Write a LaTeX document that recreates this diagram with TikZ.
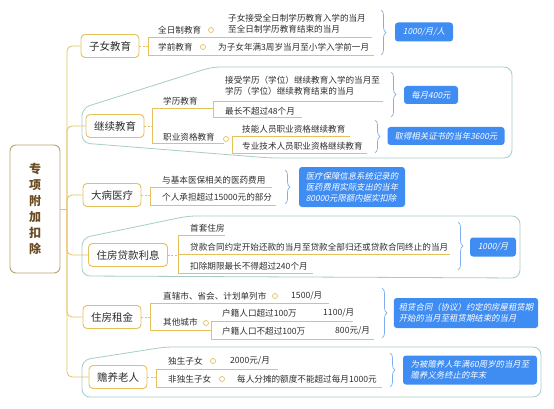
\documentclass[tikz,border=0pt]{standalone}
\usepackage{fontspec}
\setmainfont{Noto Sans CJK SC}
\newfontfamily\slantcjk[FakeSlant=0.2]{Noto Sans CJK SC}
\usetikzlibrary{decorations.pathreplacing}
\definecolor{gold}{HTML}{E6C05A}
\definecolor{rootline}{HTML}{B7A26E}
\definecolor{rootink}{HTML}{6A4A20}
\definecolor{ink}{HTML}{2E2E2E}
\definecolor{sky}{HTML}{3F8CF3}
\definecolor{bracec}{HTML}{7DAEF0}
\definecolor{frameline}{HTML}{A6CDC5}

\begin{document}
\begin{tikzpicture}[x=1pt,y=-1pt,
  root/.style={draw=rootline, line width=0.9pt, rounded corners=6pt, fill=white,
    minimum width=50pt, minimum height=128pt, text=rootink, align=center,
    font=\fontsize{12}{16}\selectfont\bfseries},
  topic/.style={draw=gold, line width=0.9pt, rounded corners=4pt, fill=white,
    minimum height=23pt, inner xsep=8pt, text=ink, font=\fontsize{10.5}{12}\selectfont},
  leaf/.style={anchor=west, inner sep=0pt, text=ink, align=left,
    font=\fontsize{8.6}{11}\selectfont},
  sum/.style={fill=sky, rounded corners=3pt, text=white, inner xsep=5pt, inner ysep=3pt,
    align=left, font=\slantcjk\fontsize{8.4}{10.8}\selectfont},
  brc/.style={draw=bracec, line width=0.7pt, decorate, decoration={brace, amplitude=5pt}},
  knob/.style={circle, draw=gold, fill=white, line width=0.7pt, minimum size=5pt, inner sep=0pt},
  ln/.style={draw=gold, line width=0.8pt},
  dl/.style={draw=gold, line width=0.8pt, dash pattern=on 2pt off 1.5pt},
  frm/.style={draw=frameline, line width=0.8pt, rounded corners=8pt}]
\useasboundingbox (0,0) rectangle (554,409);

% summary frames
\draw[frm] (82,143) -- (82,108) -- (212,67) -- (512,67) -- (512,158) -- (270,158) -- cycle;
\draw[frm] (82,276) -- (82,238) -- (188,216) -- (520,216) -- (520,278) -- cycle;
\draw[frm] (82,397) -- (82,360) -- (165,347) -- (541,347) -- (541,397) -- cycle;

% root and main topics
\node[root] (root) at (35,209) {专\\项\\附\\加\\扣\\除};
\node[topic] (t1) at (110,46)  {子女教育};
\node[topic] (t2) at (115,126) {继续教育};
\node[topic] (t3) at (112,195) {大病医疗};
\node[topic] (t4) at (128,255) {住房贷款利息};
\node[topic] (t5) at (112,317) {住房租金};
\node[topic] (t6) at (118,377) {赡养老人};

\coordinate (hub) at (67,209);
\draw[ln] (root) -- (hub);
\foreach \t in {t1,t2,t3,t4,t5,t6}
  \draw[ln, rounded corners=5pt] (hub) |- (\t.west);

% 子女教育
\coordinate (a0) at (148,46);
\coordinate (a1) at (148,37); \coordinate (a1e) at (372,37);
\coordinate (a2) at (148,55); \coordinate (a2e) at (374,55);
\draw[dl] (t1) -- (a0);
\draw[ln] (a1) -- (a2) (a1) -- (a1e) (a2) -- (a2e);
\node[leaf] (a1l) at (158,30) {全日制教育};
\node[knob] (a1k) at (211,30) {};
\node[leaf] (a1d) at (228,24) {子女接受全日制学历教育入学的当月\\至全日制学历教育结束的当月};
\node[leaf] (a2l) at (158,47) {学前教育};
\node[knob] (a2k) at (203,47) {};
\node[leaf] (a2d) at (218,47) {为子女年满3周岁当月至小学入学前一月};

% 继续教育
\coordinate (c0) at (152,126);
\coordinate (c1) at (152,108); \coordinate (c1e) at (213,108);
\coordinate (c2) at (152,143); \coordinate (c2e) at (224,143);
\coordinate (c3) at (213,101); \coordinate (c3e) at (383,101);
\coordinate (c4) at (213,117); \coordinate (c4e) at (302,117);
\coordinate (c5) at (232,136); \coordinate (c5e) at (350,136);
\coordinate (c6) at (232,153); \coordinate (c6e) at (367,153);
\draw[dl] (t2) -- (c0);
\draw[ln] (c1) -- (c2) (c1) -- (c1e) (c2) -- (c2e);
\draw[ln] (c3) -- (c4) (c3) -- (c3e) (c4) -- (c4e);
\draw[ln] (c5) -- (c6) (c5) -- (c5e) (c6) -- (c6e);
\node[leaf] (c1l) at (163,101) {学历教育};
\node[leaf] (c3l) at (225,86) {接受学历（学位）继续教育入学的当月至\\学历（学位）继续教育结束的当月};
\node[leaf] (c4l) at (225,111) {最长不超过48个月};
\node[leaf] (c2l) at (163,137) {职业资格教育};
\node[knob] (c2k) at (226,139) {};
\node[leaf] (c5l) at (242,129) {技能人员职业资格继续教育};
\node[leaf] (c6l) at (242,146) {专业技术人员职业资格继续教育};

% 大病医疗
\coordinate (d0) at (150,195);
\coordinate (d1) at (150,187); \coordinate (d1e) at (272,187);
\coordinate (d2) at (150,205); \coordinate (d2e) at (276,205);
\draw[dl] (t3) -- (d0);
\draw[ln] (d1) -- (d2) (d1) -- (d1e) (d2) -- (d2e);
\node[leaf] (d1l) at (162,180) {与基本医保相关的医药费用};
\node[leaf] (d2l) at (162,197) {个人承担超过15000元的部分};

% 住房贷款利息
\coordinate (h0) at (178,255);
\coordinate (h1) at (178,235); \coordinate (h1e) at (225,235);
\coordinate (h2) at (178,254); \coordinate (h2e) at (450,254);
\coordinate (h3) at (178,273); \coordinate (h3e) at (313,273);
\draw[dl] (t4) -- (h0);
\draw[ln] (h1) -- (h3) (h1) -- (h1e) (h2) -- (h2e) (h3) -- (h3e);
\node[leaf] (h1l) at (190,228) {首套住房};
\node[leaf] (h2l) at (190,247) {贷款合同约定开始还款的当月至贷款全部归还或贷款合同终止的当月};
\node[leaf] (h3l) at (190,266) {扣除期限最长不得超过240个月};

% 住房租金
\coordinate (r0) at (150,317);
\coordinate (r1) at (150,303); \coordinate (r1e) at (329,303);
\coordinate (r2) at (150,330); \coordinate (r2e) at (211,330);
\coordinate (r3) at (211,321); \coordinate (r3e) at (353,321);
\coordinate (r4) at (211,339); \coordinate (r4e) at (374,339);
\draw[dl] (t5) -- (r0);
\draw[ln] (r1) -- (r2) (r1) -- (r1e) (r2) -- (r2e);
\draw[ln] (r3) -- (r4) (r3) -- (r3e) (r4) -- (r4e);
\node[leaf] (r1l) at (163,296) {直辖市、省会、计划单列市};
\node[knob] (r1k) at (275,296) {};
\node[leaf] (r1v) at (291,296) {1500/月};
\node[leaf] (r2l) at (163,322) {其他城市};
\node[knob] (r2k) at (206,323) {};
\node[leaf] (r3l) at (222,313) {户籍人口超过100万};
\node[leaf] (r3v) at (323,313) {1100/月};
\node[leaf] (r4l) at (222,331) {户籍人口不超过100万};
\node[leaf] (r4v) at (335,331) {800元/月};

% 赡养老人
\coordinate (e0) at (156,377);
\coordinate (e1) at (156,369); \coordinate (e1e) at (278,369);
\coordinate (e2) at (156,387); \coordinate (e2e) at (382,387);
\draw[dl] (t6) -- (e0);
\draw[ln] (e1) -- (e2) (e1) -- (e1e) (e2) -- (e2e);
\node[leaf] (e1l) at (168,361) {独生子女};
\node[knob] (e1k) at (213,361) {};
\node[leaf] (e1v) at (230,361) {2000元/月};
\node[leaf] (e2l) at (168,379) {非独生子女};
\node[knob] (e2k) at (222,379) {};
\node[leaf] (e2v) at (237,379) {每人分摊的额度不能超过每月1000元};

% braces and summaries
\coordinate (b1t) at (381,10);  \coordinate (b1b) at (381,55);
\coordinate (b2t) at (391,72);  \coordinate (b2b) at (391,117);
\coordinate (b3t) at (375,120); \coordinate (b3b) at (375,153);
\coordinate (b4t) at (285,170); \coordinate (b4b) at (285,204);
\coordinate (b5t) at (458,222); \coordinate (b5b) at (458,270);
\coordinate (b6t) at (382,288); \coordinate (b6b) at (382,338);
\coordinate (b7t) at (390,353); \coordinate (b7b) at (390,387);
\foreach \i in {1,...,7} {\draw[brc] (b\i t) -- (b\i b);}

\node[sum, minimum width=58pt, minimum height=19pt, align=center] (s1) at (424,32)  {1000/月/人};
\node[sum, minimum width=54pt, minimum height=18pt, align=center] (s2) at (431,95)  {每月400元};
\node[sum, minimum width=117pt, minimum height=18pt, align=center] (s3) at (446,136) {取得相关证书的当年3600元};
\node[sum, minimum width=106pt, minimum height=40pt] (s4) at (352,187) {医疗保障信息系统记录的\\医药费用实际支出的当年\\80000元限额内据实扣除};
\node[sum, minimum width=46pt, minimum height=19pt, align=center] (s5) at (493,247) {1000/月};
\node[sum, minimum width=142pt, minimum height=30pt] (s6) at (466,313) {租赁合同（协议）约定的房屋租赁期\\开始的当月至租赁期结束的当月};
\node[sum, minimum width=134pt, minimum height=29pt] (s7) at (470,370) {为被赡养人年满60周岁的当月至\\赡养义务终止的年末};
\end{tikzpicture}
\end{document}
